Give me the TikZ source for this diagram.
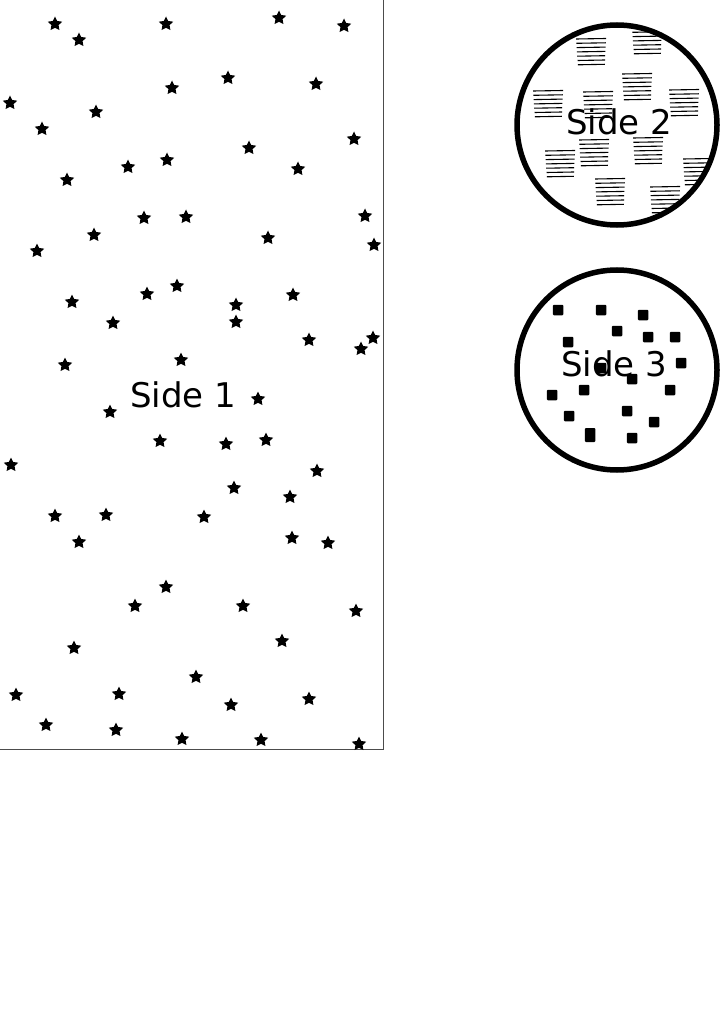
\documentclass[tikz,border=0pt]{standalone}
\usepackage{fontspec}
\setmainfont{DejaVu Sans}
\usetikzlibrary{shapes.geometric}
\begin{document}
\begin{tikzpicture}[x=1pt,y=-1pt,
  starmark/.style={star,star points=5,star point ratio=2.0,fill=black,draw=none,inner sep=0pt,minimum size=15pt},
  sqmark/.style={fill=black,draw=none,inner sep=0pt,minimum size=10.5pt,rounded corners=1pt},
  sidelabel/.style={font=\fontsize{34}{40}\selectfont,inner sep=0pt},
  sidecircle/.style={draw=black,line width=5.5pt},
  hatchline/.style={line width=1.1pt,black}]
\useasboundingbox (0,0) rectangle (723,1024);
\begin{scope}
\clip (0,0) rectangle (723,1024);
% Side 1 rectangle
\draw[line width=1pt,black!70] (-10,-10) rectangle (383,749);
\foreach \x/\y [count=\i] in {55/24,79/40,166/24,279/18,344/26,
  10/103,42/129,96/112,172/88,228/78,316/84,354/139,
  67/180,128/167,167/160,249/148,298/169,
  37/251,94/235,144/218,186/217,268/238,365/216,374/245,
  72/302,113/323,147/294,177/286,236/305,236/322,293/295,309/340,361/349,373/338,
  65/365,181/360,110/412,258/399,
  11/465,160/441,226/444,266/440,317/471,
  234/488,290/497,55/516,106/515,204/517,79/542,292/538,328/543,
  166/587,135/606,243/606,356/611,74/648,282/641,
  196/677,16/695,119/694,231/705,309/699,
  46/725,116/730,182/739,261/740,359/744}
  \node[starmark] (s\i) at (\x,\y) {};
\node[sidelabel] (side1) at (183,395) {Side 1};

% Side 2
\begin{scope}
\clip (617,125) circle (100);
\foreach \cx/\cy in {591/52,647/41,637/87,548/104,598/105,684/103,560/164,594/153,648/151,698/172,610/192,665/200}{
  \foreach \k in {0,...,6}{
    \draw[hatchline] (\cx-15+0.3*\k,\cy-13+4.3*\k) -- (\cx+15-0.2*\k,\cy-13.5+4.3*\k);
  }
}
\end{scope}
\node[sidecircle,circle,minimum size=200pt,inner sep=0pt] (c2) at (617,125) {};
\node[sidelabel] (side2) at (619,122) {Side 2};

% Side 3
\node[sidecircle,circle,minimum size=200pt,inner sep=0pt] (c3) at (617,370) {};
\foreach \x/\y [count=\i] in {558/310,601/310,643/315,617/331,568/342,648/337,675/337,681/363,
  601/368,632/379,584/390,552/395,670/390,627/411,569/416,654/422,632/438}
  \node[sqmark] (q\i) at (\x,\y) {};
\node[sqmark,minimum width=10.5pt,minimum height=14pt] (q18) at (590,435) {};
\node[sidelabel] (side3) at (614,364) {Side 3};
\end{scope}
\end{tikzpicture}
\end{document}
